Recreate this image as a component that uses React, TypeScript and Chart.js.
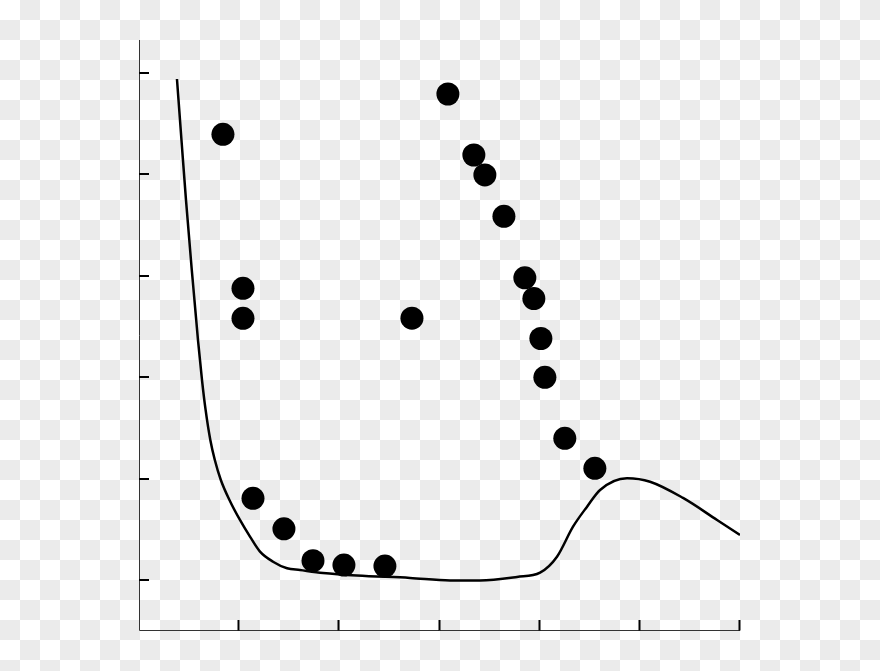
import React, { useRef, useEffect } from 'react';
import Chart from 'chart.js/auto';

// measured points (dots)
const dotX = [0.838, 1.038, 1.038, 1.138, 1.447, 1.737, 2.046, 2.455, 2.725, 3.084, 3.343, 3.453, 3.643, 3.852, 3.942, 4.012, 4.052, 4.251, 4.551];
const dotY = [4.394, 2.877, 2.581, 0.808, 0.507, 0.193, 0.150, 0.140, 2.582, 4.791, 4.190, 3.993, 3.586, 2.980, 2.776, 2.382, 1.999, 1.399, 1.103];

// model curve
const curveX = [0.379, 0.424, 0.469, 0.527, 0.589, 0.629, 0.665, 0.712, 0.757, 0.817, 0.903, 1.008, 1.108, 1.208, 1.338, 1.478, 1.607, 1.837, 2.176, 2.705, 3.105, 3.404, 3.774, 4.004, 4.173, 4.333, 4.473, 4.603, 4.872, 5.102, 5.431, 5.771, 6.0];
const curveY = [4.939, 4.338, 3.747, 3.057, 2.367, 1.973, 1.678, 1.382, 1.185, 0.988, 0.791, 0.594, 0.430, 0.282, 0.183, 0.118, 0.101, 0.072, 0.047, 0.023, -0.002, -0.002, 0.033, 0.075, 0.232, 0.528, 0.725, 0.890, 1.005, 0.971, 0.811, 0.594, 0.446];

const xTicks = [1, 2, 3, 4, 5, 6];
const yTicks = [0, 1, 2, 3, 4, 5];

const axesPlugin = {
  id: 'inwardAxes',
  beforeDatasetsDraw(chart: any) {
    const { ctx, chartArea, scales } = chart;
    const { left, right, top, bottom } = chartArea;
    ctx.save();
    ctx.strokeStyle = '#333';
    ctx.lineWidth = 1;
    ctx.beginPath();
    ctx.moveTo(left + 0.5, top);
    ctx.lineTo(left + 0.5, bottom + 0.5);
    ctx.lineTo(right, bottom + 0.5);
    ctx.stroke();

    ctx.strokeStyle = '#000';
    ctx.lineWidth = 2;
    ctx.beginPath();
    xTicks.forEach((t) => {
      const px = Math.round(scales.x.getPixelForValue(t)) - 0.5;
      ctx.moveTo(px, bottom + 0.5);
      ctx.lineTo(px, bottom - 10);
    });
    yTicks.forEach((t) => {
      const py = Math.round(scales.y.getPixelForValue(t));
      ctx.moveTo(left, py);
      ctx.lineTo(left + 10, py);
    });
    ctx.stroke();
    ctx.restore();
  },
};

const App: React.FC = () => {
  const canvasRef = useRef<HTMLCanvasElement | null>(null);

  useEffect(() => {
    if (!canvasRef.current) return;
    document.body.style.margin = '0';

    const chart = new Chart(canvasRef.current, {
      type: 'scatter',
      data: {
        datasets: [
          {
            type: 'line',
            data: curveX.map((x, i) => ({ x, y: curveY[i] })),
            borderColor: '#000',
            borderWidth: 2.5,
            pointRadius: 0,
            cubicInterpolationMode: 'monotone',
            fill: false,
          } as any,
          {
            data: dotX.map((x, i) => ({ x, y: dotY[i] })),
            backgroundColor: '#000',
            borderWidth: 0,
            pointRadius: 11.5,
            pointHoverRadius: 11.5,
          },
        ],
      },
      options: {
        animation: false,
        responsive: true,
        maintainAspectRatio: false,
        layout: { padding: { left: 139, top: 40, right: 140, bottom: 41 } },
        scales: {
          x: { type: 'linear', display: false, min: 0, max: 6 },
          y: { type: 'linear', display: false, min: -0.49, max: 5.323 },
        },
        plugins: {
          legend: { display: false },
          tooltip: { enabled: false },
        },
      },
      plugins: [axesPlugin],
    });

    return () => {
      chart.destroy();
    };
  }, []);

  return (
    <div
      style={{
        position: 'absolute',
        left: 0,
        top: 0,
        width: 880,
        height: 671,
        background: 'repeating-conic-gradient(#ebebeb 0% 25%, #ffffff 0% 50%) 0 0 / 40px 40px',
      }}
    >
      <canvas ref={canvasRef}></canvas>
    </div>
  );
};

export default App;
